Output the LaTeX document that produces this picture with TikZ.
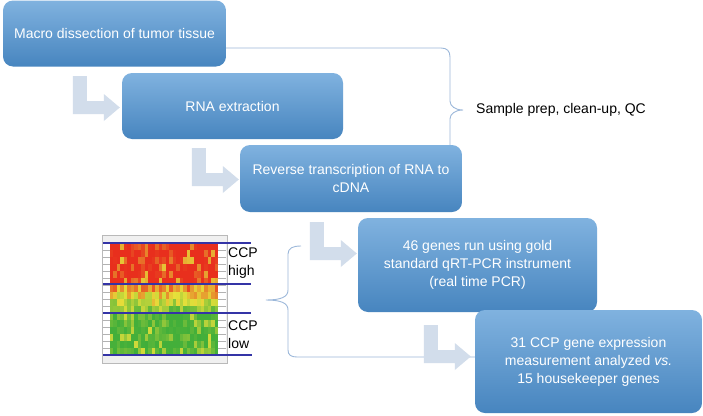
\documentclass[tikz,border=0pt]{standalone}
\usepackage{fontspec}
\setmainfont{Liberation Sans}
\usetikzlibrary{calc}
\definecolor{boxtop}{HTML}{80B2DF}
\definecolor{boxbot}{HTML}{4785BF}
\definecolor{arrowc}{HTML}{D2DDEB}
\definecolor{bracec}{HTML}{9CB8DA}
\definecolor{navy}{HTML}{3434A6}
\definecolor{hmr}{HTML}{E8281C}
\definecolor{hmy}{HTML}{E6E03A}
\definecolor{hmg}{HTML}{40AE3A}
\tikzset{
  stepbox/.style={rectangle, rounded corners=10pt, top color=boxtop, bottom color=boxbot,
    draw=none, text=white, font=\fontsize{14}{18}\selectfont, align=center, inner sep=4pt},
  larrow/.pic={\fill[arrowc] (0,0) -- (14,0) -- (14,25) -- (31,25) -- (31,18) -- (47,31.5)
    -- (31,45) -- (31,38) -- (0,38) -- cycle;},
  bracel/.style={draw=bracec, line width=0.9pt},
  lbl/.style={font=\fontsize{14}{18}\selectfont, text=black, inner sep=0pt},
  hmline/.style={draw=navy, line width=1.2pt}
}
\begin{document}
\begin{tikzpicture}[x=1pt,y=-1pt]
\useasboundingbox (0,0) rectangle (703,415);
\fill[white] (0,0) rectangle (703,415);

% heatmap
\fill[gray!12] (102,235) rectangle (227,363);
\draw[gray!55, line width=0.8pt] (102,235) rectangle (227,363);
\fill[white] (103,243) rectangle (110,355);
\fill[white] (218,243) rectangle (226,355);
\foreach \r in {1,...,15}{
  \draw[gray!60, line width=0.6pt] (103,{243+7*\r}) -- (110,{243+7*\r});
  \draw[gray!60, line width=0.6pt] (218,{243+7*\r}) -- (226,{243+7*\r});
}
\pgfmathsetseed{42}
\foreach \r in {0,...,15}{
  \foreach \c in {0,...,30}{
    \pgfmathsetmacro{\u}{rnd}
    \ifnum\r<6
      \pgfmathtruncatemacro{\v}{2+42*\u^5}
    \else
      \ifnum\r<10
        \pgfmathtruncatemacro{\v}{10+15*(\r-6)+40*\u}
      \else
        \pgfmathtruncatemacro{\v}{100-45*\u^3}
      \fi
    \fi
    \ifnum\v<51
      \pgfmathtruncatemacro{\p}{2*\v}\colorlet{hc}{hmy!\p!hmr}
    \else
      \pgfmathtruncatemacro{\p}{2*(\v-50)}\colorlet{hc}{hmg!\p!hmy}
    \fi
    \fill[hc] ({110+3.484*\c},{243+7*\r}) rectangle ({110+3.484*(\c+1)+0.15},{243+7*(\r+1)+0.15});
  }
}
\draw[hmline] (103,243) -- (251,243);
\draw[hmline] (103,284) -- (251,284);
\draw[hmline] (103,313) -- (251,313);
\draw[hmline] (103,355) -- (252,355);
\node[lbl, anchor=west, align=left] (hi) at (228,263) {CCP\\high};
\node[lbl, anchor=west, align=left] (lo) at (228,335) {CCP\\low};

% boxes
\node[stepbox, minimum width=223pt, minimum height=66pt] (b1) at (114.5,33.5) {Macro dissection of tumor tissue};
\node[stepbox, minimum width=221pt, minimum height=66pt] (b2) at (232.5,106) {RNA extraction};
\node[stepbox, minimum width=222pt, minimum height=67pt] (b3) at (351,178.5) {Reverse transcription of RNA to\\cDNA};
\node[stepbox, minimum width=239pt, minimum height=94pt] (b4) at (477.5,265) {46 genes run using gold\\standard qRT-PCR instrument\\(real time PCR)};
\node[stepbox, minimum width=227pt, minimum height=103pt] (b5) at (588.5,361.5) {31 CCP gene expression\\measurement analyzed \textit{vs.}\\15 housekeeper genes};

% braces
\coordinate (y48) at (0,48);
\coordinate (y357) at (0,357);
\coordinate (x450) at (450,0);
\draw[bracel] (b1.east |- y48) -- (441,48) .. controls (447,48) and (450,51) .. (450,57)
  -- (450,101) .. controls (450,106) and (455,110) .. (463,110)
  .. controls (455,110) and (450,114) .. (450,119) -- (b3.north -| x450);
\node[lbl, anchor=west] (sp) at (476,110) {Sample prep, clean-up, QC};
\draw[bracel] (301,246) .. controls (293,246) and (288,248) .. (288,254)
  -- (288,290) .. controls (288,297) and (281,300) .. (266,300)
  .. controls (281,300) and (288,303) .. (288,310)
  -- (288,350) .. controls (288,355) and (291,357) .. (297,357) -- (b5.west |- y357);

% L arrows
\pic at ($(b2.west)+(-49,-30)$) {larrow};
\pic at ($(b3.west)+(-48,-30.5)$) {larrow};
\pic at ($(b4.west)+(-48,-43)$) {larrow};
\pic at ($(b5.west)+(-51,-36.5)$) {larrow};
\end{tikzpicture}
\end{document}
